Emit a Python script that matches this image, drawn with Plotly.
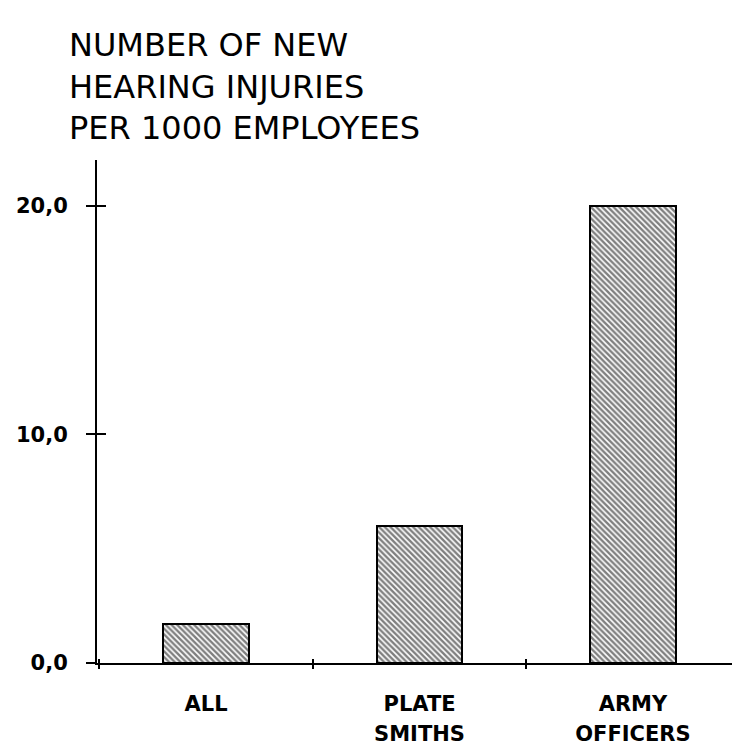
import plotly.graph_objects as go

categories_line1 = ["ALL", "PLATE", "ARMY"]
categories_line2 = ["", "SMITHS", "OFFICERS"]
values = [1.7, 6.0, 20.0]
y_tick_vals = [0, 10, 20]
y_tick_text = ["0,0", "10,0", "20,0"]
title_text = "NUMBER OF NEW<br>HEARING INJURIES<br>PER 1000 EMPLOYEES"

positions = list(range(len(categories_line1)))
boundaries = [p - 0.5 for p in positions]

fig = go.Figure()
fig.add_trace(go.Bar(
    x=positions, y=values, width=0.4,
    marker=dict(color="white",
                line=dict(color="black", width=2),
                pattern=dict(shape="\\", fgcolor="black", bgcolor="white",
                             size=4, solidity=0.6)),
    showlegend=False, hoverinfo="skip",
))
fig.add_trace(go.Scatter(x=[], y=[], xaxis="x2", yaxis="y2", showlegend=False))

label_font = dict(family="DejaVu Sans", size=21, color="black")

W, H = 732, 746

fig.update_layout(
    width=W, height=H,
    margin=dict(l=97, r=0, t=160, b=83, pad=0),
    paper_bgcolor="white", plot_bgcolor="white",
    title=dict(text=title_text, x=69/W, xref="container", xanchor="left",
               y=1-56/H, yref="container", yanchor="top",
               font=dict(family="DejaVu Sans", size=32, color="black")),
    bargap=0,
    xaxis=dict(range=[-0.511, 2.464], tickmode="array", tickvals=positions,
               ticktext=["<b>%s</b>" % t for t in categories_line1],
               ticks="", showgrid=False, zeroline=False,
               showline=True, linecolor="black", linewidth=2,
               ticklabelstandoff=21, tickfont=label_font,
               minor=dict(tickmode="array", tickvals=boundaries, ticks="inside",
                          ticklen=4, tickwidth=2, tickcolor="black")),
    xaxis2=dict(range=[-0.511, 2.464], overlaying="x", anchor="y", side="bottom",
                tickmode="array", tickvals=positions,
                ticktext=["<b>%s</b>" % t for t in categories_line2],
                ticks="", showgrid=False, zeroline=False, showline=False,
                ticklabelstandoff=56, tickfont=label_font,
                minor=dict(tickmode="array", tickvals=boundaries, ticks="outside",
                           ticklen=5, tickwidth=2, tickcolor="black")),
    yaxis=dict(range=[0, 22], tickmode="array", tickvals=y_tick_vals,
               ticktext=["<b>%s</b>" % t for t in y_tick_text],
               ticks="outside", ticklen=9, tickwidth=2, tickcolor="black",
               showgrid=False, zeroline=False,
               showline=True, linecolor="black", linewidth=2,
               ticklabelstandoff=14,
               tickfont=dict(family="DejaVu Sans", size=21, color="black")),
    yaxis2=dict(range=[0, 22], overlaying="y", anchor="x", side="left",
                tickmode="array", tickvals=y_tick_vals, showticklabels=False,
                ticks="inside", ticklen=9, tickwidth=2, tickcolor="black",
                showgrid=False, zeroline=False, showline=False),
)

fig.write_html("out.html",
               config={"displayModeBar": False},
               post_script="document.body.style.margin='0';"
                           "document.body.style.overflow='hidden';")
